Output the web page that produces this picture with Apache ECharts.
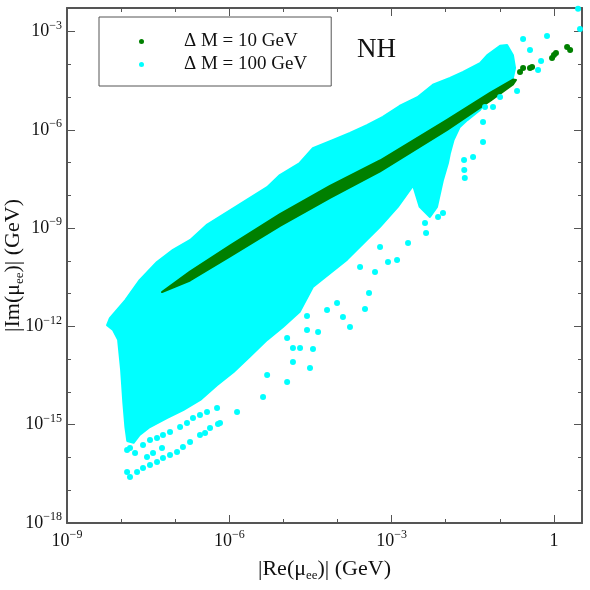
<!DOCTYPE html>
<html>
<head>
<meta charset="utf-8">
<script src="https://cdn.jsdelivr.net/npm/echarts@6/dist/echarts.min.js"></script>
<style>
    html, body { margin: 0; padding: 0; background: #fff; }
    #main { width: 590px; height: 590px; }
</style>
</head>
<body>
<div id="main"></div>
<script>
// 数据：|Re(mu_ee)| 与 |Im(mu_ee)|，单位 GeV
const seriesNames = ['Δ M = 10 GeV', 'Δ M = 100 GeV'];

// ΔM = 100 GeV 的稠密区域外轮廓
const cyanOutline = [
    [5.5e-9, 1.1e-12], [6.2e-9, 1.8e-12], [1.2e-8, 6.4e-12], [2.2e-8, 2.6e-11], [4.6e-8, 9.3e-11],
    [9.1e-8, 2.2e-10], [1.9e-7, 4.4e-10], [3.9e-7, 1.3e-9], [1.2e-6, 4.1e-9], [5.0e-6, 1.8e-8],
    [8.6e-6, 4.2e-8], [2.0e-5, 9.8e-8], [3.5e-5, 2.8e-7], [8.3e-5, 5.0e-7], [1.7e-4, 8.1e-7],
    [3.5e-4, 1.4e-6], [6.9e-4, 2.5e-6], [1.4e-3, 5.4e-6], [3.0e-3, 1.0e-5], [5.8e-3, 2.4e-5],
    [1.2e-2, 3.9e-5], [2.1e-2, 5.9e-5], [4.3e-2, 1.1e-4], [5.8e-2, 1.9e-4], [0.101, 3.7e-4],
    [0.136, 3.9e-4], [0.175, 1.9e-4], [0.191, 7.8e-5], [0.168, 2.9e-5], [0.101, 1.3e-5],
    [5.8e-2, 8.2e-6], [4.3e-2, 4.1e-6], [2.5e-2, 2.0e-6], [1.8e-2, 1.2e-6], [1.4e-2, 5.0e-7],
    [1.2e-2, 2.0e-7], [1.1e-2, 9.8e-8], [8.9e-3, 3.0e-8], [6.9e-3, 4.5e-9], [5.1e-3, 2.2e-9],
    [3.3e-3, 4.5e-9], [2.5e-3, 2.0e-8], [2.2e-3, 1.5e-8], [1.3e-3, 4.5e-9], [6.1e-4, 1.1e-9],
    [1.5e-4, 1.1e-10], [3.5e-5, 1.6e-11], [2.0e-5, 2.8e-12], [9.8e-6, 9.7e-13], [5.0e-6, 3.9e-13],
    [2.4e-6, 1.2e-13], [1.2e-6, 4.1e-14], [5.9e-7, 1.6e-14], [2.9e-7, 5.7e-15], [1.4e-7, 2.8e-15],
    [7.0e-8, 1.6e-15], [3.4e-8, 8.5e-16], [2.2e-8, 4.9e-16], [1.7e-8, 2.8e-16], [1.3e-8, 3.2e-16],
    [1.2e-8, 8.5e-16], [1.1e-8, 4.6e-15], [1.0e-8, 4.7e-14], [8.8e-9, 3.9e-13], [7.1e-9, 7.8e-13]
];

// ΔM = 100 GeV 的零散点
const cyanPoints = [
    [0.745, 7.41e-4], [0.269, 6.01e-4], [0.361, 2.77e-4], [0.578, 1.28e-4], [0.508, 6.79e-5],
    [2.79, 5.0e-3], [3.03, 1.21e-3], [0.101, 1.02e-5], [0.208, 1.55e-5], [7.48e-2, 5.04e-6],
    [5.32e-2, 5.04e-6], [4.89e-2, 1.75e-6], [4.89e-2, 4.31e-7], [3.20e-2, 1.50e-7], [2.18e-2, 1.21e-7],
    [2.2e-2, 6.01e-8], [2.25e-2, 3.42e-8], [8.9e-3, 2.92e-9], [7.21e-3, 2.2e-9], [4.33e-3, 7.16e-10],
    [4.14e-3, 1.45e-9], [2.01e-3, 3.55e-10], [1.26e-3, 1.07e-10], [8.57e-4, 9.3e-11], [6.11e-4, 2.67e-10],
    [3.82e-4, 1.05e-11], [4.93e-4, 4.61e-11], [2.61e-4, 6.56e-11],
    [3.22e-4, 3.42e-12], [1.70e-4, 9.66e-13], [1.26e-4, 1.95e-12], [9.80e-5, 5.22e-12], [6.40e-5, 3.19e-12],
    [4.37e-5, 6.79e-13], [3.52e-5, 2.06e-13], [3.10e-5, 5.41e-14], [2.73e-5, 7.8e-13], [2.73e-5, 2.09e-12],
    [2.03e-5, 2.21e-13], [1.50e-5, 8.24e-14], [1.17e-5, 2.02e-14], [4.20e-6, 7.03e-15], [5.0e-6, 3.30e-14],
    [1.39e-6, 2.45e-15], [6.18e-7, 1.05e-15], [1.50e-5, 2.21e-13], [1.17e-5, 4.46e-13],
    [1.29e-8, 3.61e-17], [1.46e-8, 2.54e-17], [1.97e-8, 3.61e-17], [2.54e-8, 4.78e-17], [3.42e-8, 5.90e-17],
    [4.61e-8, 7.29e-17], [5.94e-8, 9.66e-17], [8.02e-8, 1.19e-16], [1.08e-7, 1.47e-16], [1.39e-7, 2.09e-16],
    [1.88e-7, 2.97e-16], [2.87e-7, 4.86e-16], [3.56e-7, 5.60e-16], [4.40e-7, 7.96e-16], [6.73e-7, 1.13e-15],
    [1.29e-8, 1.69e-16], [1.46e-8, 1.95e-16], [1.81e-8, 1.37e-16], [3.01e-8, 1.04e-16], [3.89e-8, 1.37e-16],
    [5.70e-8, 1.95e-16], [2.54e-8, 2.41e-16], [3.42e-8, 3.42e-16], [4.61e-8, 3.94e-16], [5.94e-8, 4.86e-16],
    [8.02e-8, 6.01e-16], [1.23e-7, 8.53e-16], [1.65e-7, 1.13e-15], [2.13e-7, 1.61e-15], [2.87e-7, 1.99e-15],
    [3.87e-7, 2.45e-15], [5.93e-7, 3.24e-15]
];

// ΔM = 10 GeV 的窄带外轮廓
const greenOutline = [
    [5.7e-8, 1.13e-11], [1.88e-7, 4.78e-11], [1.03e-6, 2.97e-10], [8.65e-6, 2.72e-9], [7.26e-5, 1.95e-8],
    [6.11e-4, 1.17e-7], [1.06e-2, 2.02e-6], [6.59e-2, 1.35e-5], [0.175, 3.48e-5], [0.199, 3.37e-5],
    [0.175, 2.45e-5], [6.59e-2, 7.67e-6], [1.06e-2, 1.0e-6], [6.11e-4, 5.41e-8], [7.26e-5, 8.39e-9],
    [8.65e-6, 1.17e-9], [1.03e-6, 1.37e-10], [1.88e-7, 2.54e-11]
];

// ΔM = 10 GeV 的零散点
const greenPoints = [
    [0.236, 5.9e-5], [0.269, 7.8e-5], [0.361, 7.8e-5], [0.394, 8.4e-5], [0.923, 1.58e-4],
    [1.0, 1.95e-4], [1.09, 2.24e-4], [1.75, 3.42e-4], [1.99, 2.77e-4]
];

const xRange = [1e-9, 3.3];
const yRange = [1e-18, 5.3e-3];

const FONT = 'Liberation Serif';
const FRAME = '#555';
const CYAN = '#00ffff';
const GREEN = '#008000';

function powLabel(v) {
    let lg = Math.log10(v);
    let e = Math.round(lg);
    if (Math.abs(lg - e) > 1e-6) return '';
    if (e === 0) return '{n|1}';
    return '{n|10}{e|\u2212' + (-e) + '}';
}

const labelRich = {
    n: {fontFamily: FONT, fontSize: 18, color: '#111', lineHeight: 24},
    e: {fontFamily: FONT, fontSize: 12, color: '#111', lineHeight: 12, verticalAlign: 'top'}
};

const nameRich = {
    m: {fontFamily: FONT, fontSize: 22, color: '#111', lineHeight: 26},
    s: {fontFamily: FONT, fontSize: 13, color: '#111', lineHeight: 19, verticalAlign: 'bottom'}
};

// 同一位置叠两条轴：一条画长刻度(每3个量级)，一条画短刻度(每个量级)
function makeAxis(range, position, interval, tickLen, main, extra) {
    return Object.assign({
        type: 'log',
        logBase: 10,
        min: range[0],
        max: range[1],
        interval: interval,
        position: position,
        axisLine: {show: main, onZero: false, lineStyle: {color: FRAME, width: 2}},
        axisTick: {show: true, inside: true, length: tickLen, lineStyle: {color: FRAME, width: 1}},
        axisLabel: {show: false},
        splitLine: {show: false},
        minorTick: {show: false}
    }, extra || {});
}

function outlineRenderer(points, color) {
    return function (params, api) {
        if (params.dataIndex !== 0) return null;
        return {
            type: 'polygon',
            shape: {points: points.map(p => api.coord(p))},
            style: {fill: color, stroke: color, lineWidth: 2, lineJoin: 'round'}
        };
    };
}

let chart = echarts.init(document.getElementById('main'));
let option = {
    animation: false,
    backgroundColor: '#fff',
    title: {
        text: 'NH',
        left: 357,
        top: 36,
        padding: 0,
        textStyle: {fontFamily: FONT, fontSize: 27, fontWeight: 'normal', color: '#111'}
    },
    legend: {
        data: [
            {name: seriesNames[0], icon: 'circle'},
            {name: seriesNames[1], icon: 'circle'}
        ],
        orient: 'vertical',
        left: 99,
        top: 17,
        padding: [15, 24, 12, 40],
        itemGap: 4,
        itemWidth: 5,
        itemHeight: 5,
        backgroundColor: '#fff',
        borderColor: FRAME,
        borderWidth: 1,
        selectedMode: false,
        textStyle: {fontFamily: FONT, fontSize: 19, color: '#111', lineHeight: 19, padding: [0, 0, 0, 35]}
    },
    grid: {left: 67, right: 8, top: 8, bottom: 67, containLabel: false, outerBoundsMode: 'none'},
    xAxis: [
        makeAxis(xRange, 'bottom', 3, 8, true, {
            axisLabel: {show: true, margin: 6, formatter: powLabel, rich: labelRich},
            name: '{m||Re(\u03bc}{s|ee}{m|)| (GeV)}',
            nameLocation: 'middle',
            nameGap: 33,
            nameMoveOverlap: false,
            nameTextStyle: {rich: nameRich}
        }),
        makeAxis(xRange, 'bottom', 1, 4, false),
        makeAxis(xRange, 'top', 3, 8, true),
        makeAxis(xRange, 'top', 1, 4, false)
    ],
    yAxis: [
        makeAxis(yRange, 'left', 3, 8, true, {
            axisLabel: {show: true, margin: 5, formatter: powLabel, rich: labelRich},
            name: '{m||Im(\u03bc}{s|ee}{m|)| (GeV)}',
            nameLocation: 'middle',
            nameGap: 41,
            nameMoveOverlap: false,
            nameTextStyle: {rich: nameRich}
        }),
        makeAxis(yRange, 'left', 1, 4, false),
        makeAxis(yRange, 'right', 3, 8, true),
        makeAxis(yRange, 'right', 1, 4, false)
    ],
    series: [
        {
            name: seriesNames[1],
            type: 'custom',
            renderItem: outlineRenderer(cyanOutline, CYAN),
            data: cyanOutline,
            itemStyle: {color: CYAN},
            clip: true,
            silent: true
        },
        {
            name: seriesNames[1],
            type: 'scatter',
            data: cyanPoints,
            symbolSize: 6,
            itemStyle: {color: CYAN, opacity: 1},
            silent: true
        },
        {
            name: seriesNames[0],
            type: 'custom',
            renderItem: outlineRenderer(greenOutline, GREEN),
            data: greenOutline,
            itemStyle: {color: GREEN},
            clip: true,
            silent: true
        },
        {
            name: seriesNames[0],
            type: 'scatter',
            data: greenPoints,
            symbolSize: 6,
            itemStyle: {color: GREEN, opacity: 1},
            silent: true
        }
    ]
};
chart.setOption(option);
</script>
</body>
</html>
